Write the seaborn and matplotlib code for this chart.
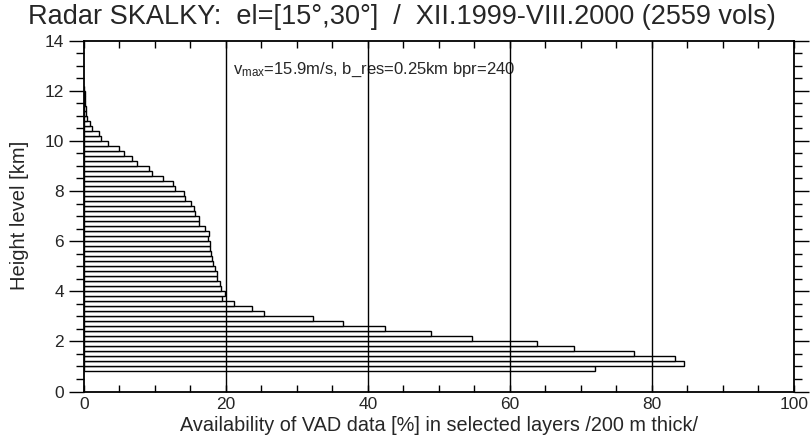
import numpy as np
import pandas as pd
import matplotlib
matplotlib.use("Agg")
import matplotlib.pyplot as plt
import seaborn as sns
from matplotlib.ticker import MultipleLocator

# ---- data ----
layer_bottom_km = [0.8, 1.0, 1.2, 1.4, 1.6, 1.8, 2.0, 2.2, 2.4, 2.6, 2.8, 3.0, 3.2, 3.4,
                   3.6, 3.8, 4.0, 4.2, 4.4, 4.6, 4.8, 5.0, 5.2, 5.4, 5.6, 5.8, 6.0, 6.2,
                   6.4, 6.6, 6.8, 7.0, 7.2, 7.4, 7.6, 7.8, 8.0, 8.2, 8.4, 8.6, 8.8, 9.0,
                   9.2, 9.4, 9.6, 9.8, 10.0, 10.2, 10.4, 10.6, 10.8, 11.0, 11.2, 11.4,
                   11.6, 11.8, 12.0]
availability_pct = [72.0, 84.5, 83.3, 77.4, 69.0, 63.8, 54.7, 48.9, 42.4, 36.5, 32.3, 25.4,
                    23.6, 21.2, 19.4, 19.9, 19.3, 19.1, 18.7, 18.8, 18.5, 18.2, 18.1, 17.9,
                    17.8, 17.8, 17.5, 17.6, 17.0, 16.2, 16.2, 15.6, 15.5, 15.1, 14.2, 14.1,
                    12.8, 12.5, 11.2, 9.6, 9.1, 7.5, 6.8, 5.6, 5.0, 3.4, 2.4, 2.1, 1.2, 0.9,
                    0.4, 0.3, 0.3, 0.2, 0.15, 0.1, 0.05]
layer_thick_km = 0.2
x_ticks = [0, 20, 40, 60, 80, 100]
y_ticks = [0, 2, 4, 6, 8, 10, 12, 14]

title = "Radar SKALKY:  el=[15°,30°]  /  XII.1999-VIII.2000 (2559 vols)"
xlabel = "Availability of VAD data [%] in selected layers /200 m thick/"
ylabel = "Height level [km]"

df = pd.DataFrame({"center": np.round(np.array(layer_bottom_km) + layer_thick_km / 2, 3),
                   "pct": availability_pct})

sns.set_style("white")
plt.rcParams["font.family"] = ["Liberation Sans", "DejaVu Sans"]
plt.rcParams["mathtext.fontset"] = "custom"
plt.rcParams["mathtext.rm"] = "Liberation Sans"
plt.rcParams["mathtext.it"] = "Liberation Sans"

fig = plt.figure(figsize=(8.12, 4.41), dpi=100)
ax = fig.add_axes([0.1034, 0.1122, 0.8744, 0.7958])

sns.barplot(data=df, x="pct", y="center", orient="h", native_scale=True, width=1.0,
            color="white", edgecolor="black", linewidth=1.0, ax=ax, zorder=3)
for p in ax.patches:
    p.set_facecolor("white")
    p.set_alpha(1)

ax.set_xlim(0, 100)
ax.set_ylim(0, 14)
for xv in x_ticks[1:-1]:
    ax.axvline(xv, color="black", lw=1.0, zorder=4)

ax.set_xticks(x_ticks)
ax.set_yticks(y_ticks)
ax.xaxis.set_minor_locator(MultipleLocator(5))
ax.yaxis.set_minor_locator(MultipleLocator(0.5))
ax.tick_params(axis="x", which="both", direction="in", top=True, bottom=True,
               length=5, width=1, labelsize=12.5, pad=4, color="black")
ax.tick_params(axis="y", which="major", direction="out", left=True, right=True,
               length=11, width=1, labelsize=12.5, pad=3.5, color="black")
ax.tick_params(axis="y", which="minor", direction="out", left=True, right=True,
               length=6, width=1, color="black")
for s in ax.spines.values():
    s.set_visible(True)
    s.set_color("black")
    s.set_linewidth(1.3)

ax.set_xlabel("")
ax.set_ylabel("")
fig.text(0.5406, 0.014, xlabel, ha="center", va="bottom", fontsize=14.3)
fig.text(0.0246, 0.512, ylabel, ha="center", va="center", rotation=90, fontsize=14.5)
fig.text(0.495, 0.962, title, ha="center", va="center", fontsize=19.5)
ax.text(0.21, 0.916, r"v$_{\mathregular{max}}$=15.9m/s, b_res=0.25km bpr=240",
        transform=ax.transAxes, fontsize=12, ha="left", va="center")

fig.savefig("out.png", dpi=100)
